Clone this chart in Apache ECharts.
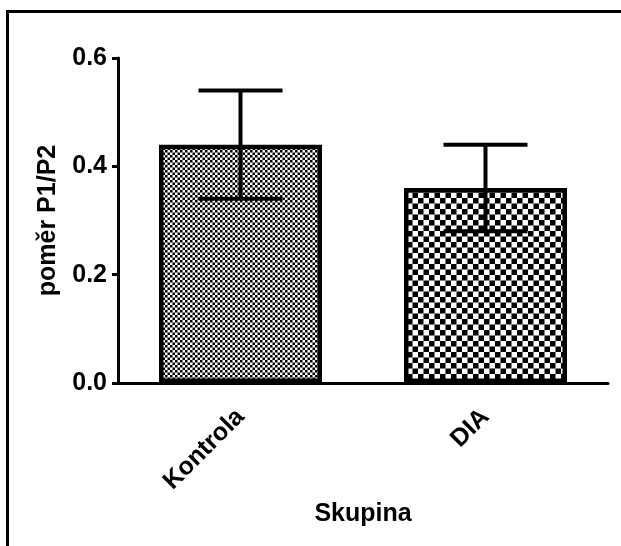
<!DOCTYPE html>
<html>
<head>
<meta charset="utf-8">
<script src="https://cdn.jsdelivr.net/npm/echarts@6/dist/echarts.min.js"></script>
<style>
  html, body { margin: 0; padding: 0; background: #fff; }
  #chart { width: 621px; height: 546px; }
</style>
</head>
<body>
<div id="chart"></div>
<script>
// Groups, mean ratio and error (SD) per group
const categories = ['Kontrola', 'DIA'];
const means = [0.44, 0.36];
const errors = [0.10, 0.08];
const yTicks = [0.0, 0.2, 0.4, 0.6];

// Checkerboard fill used inside each bar
function checker(cell) {
  const size = cell * 2;
  const c = document.createElement('canvas');
  c.width = size; c.height = size;
  const ctx = c.getContext('2d');
  ctx.fillStyle = '#fff';
  ctx.fillRect(0, 0, size, size);
  ctx.fillStyle = '#000';
  ctx.fillRect(0, 0, cell, cell);
  ctx.fillRect(cell, cell, cell, cell);
  return c;
}
const fills = [checker(2.5), checker(5.5)];

const font = 'Liberation Sans, Arial, Helvetica, sans-serif';
const chart = echarts.init(document.getElementById('chart'), null, { renderer: 'canvas' });

chart.setOption({
  animation: false,
  backgroundColor: '#fff',
  graphic: [{
    type: 'rect',
    shape: { x: 7.5, y: 11.5, width: 700, height: 700 },
    style: { fill: 'none', stroke: '#000', lineWidth: 3 },
    z: 0
  }],
  grid: { left: 118, right: 13, top: 58, bottom: 163 },
  xAxis: {
    type: 'category',
    data: categories,
    name: 'Skupina',
    nameLocation: 'middle',
    nameGap: 116,
    nameTextStyle: { fontFamily: font, fontWeight: 'bold', fontSize: 25, color: '#000' },
    axisLine: { lineStyle: { color: '#000', width: 3 } },
    axisTick: { alignWithLabel: true, length: 9, lineStyle: { color: '#000', width: 3 } },
    axisLabel: { rotate: 45, margin: 30, fontFamily: font, fontWeight: 'bold', fontSize: 25, color: '#000' }
  },
  yAxis: {
    type: 'value',
    min: yTicks[0],
    max: yTicks[yTicks.length - 1],
    interval: 0.2,
    name: 'poměr P1/P2',
    nameLocation: 'middle',
    nameGap: 57,
    nameTextStyle: { fontFamily: font, fontWeight: 'bold', fontSize: 25, color: '#000' },
    splitLine: { show: false },
    axisLine: { show: true, lineStyle: { color: '#000', width: 3 } },
    axisTick: { show: true, length: 6, lineStyle: { color: '#000', width: 3 } },
    axisLabel: {
      margin: 11,
      formatter: v => v.toFixed(1),
      fontFamily: font, fontWeight: 'bold', fontSize: 25, color: '#000'
    }
  },
  series: [
    {
      type: 'bar',
      barWidth: 163,
      data: means.map((m, i) => ({
        value: m,
        itemStyle: {
          color: { image: fills[i], repeat: 'repeat' },
          borderColor: '#000',
          borderWidth: 4.5
        }
      })),
      z: 2
    },
    {
      type: 'custom',
      z: 5,
      data: means.map((m, i) => [i, m - errors[i], m + errors[i]]),
      renderItem: function (params, api) {
        const lo = api.coord([api.value(0), api.value(1)]);
        const hi = api.coord([api.value(0), api.value(2)]);
        const half = 42;
        const style = { stroke: '#000', lineWidth: 4, fill: 'none' };
        return {
          type: 'group',
          children: [
            { type: 'line', shape: { x1: hi[0], y1: hi[1], x2: lo[0], y2: lo[1] }, style: style },
            { type: 'line', shape: { x1: hi[0] - half, y1: hi[1], x2: hi[0] + half, y2: hi[1] }, style: style },
            { type: 'line', shape: { x1: lo[0] - half, y1: lo[1], x2: lo[0] + half, y2: lo[1] }, style: style }
          ]
        };
      }
    }
  ]
});
</script>
</body>
</html>
